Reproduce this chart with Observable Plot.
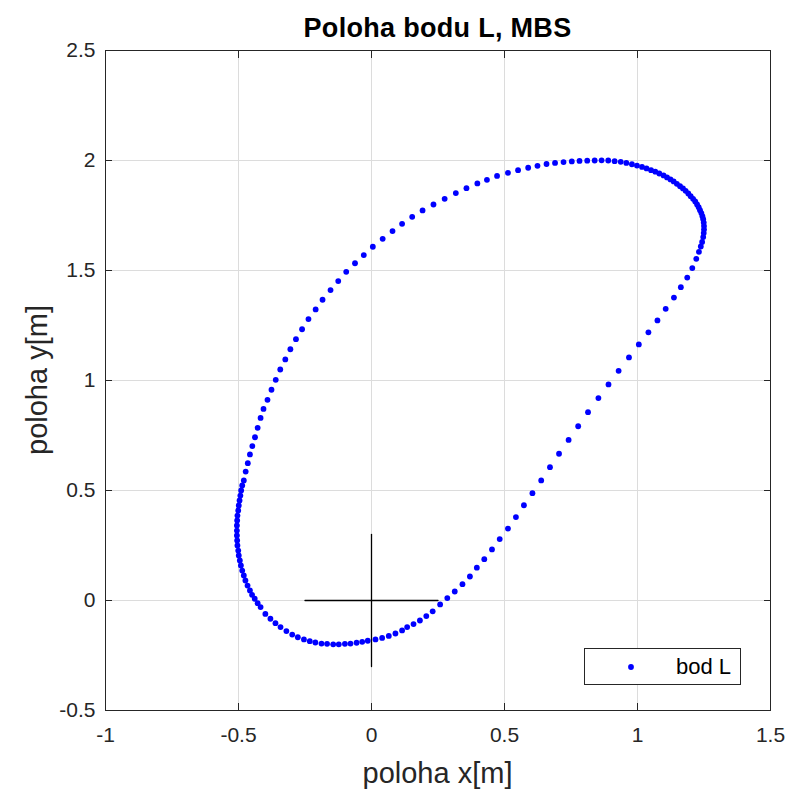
<!DOCTYPE html>
<html><head><meta charset="utf-8">
<script src="https://cdn.jsdelivr.net/npm/d3@7"></script>
<script src="https://cdn.jsdelivr.net/npm/@observablehq/plot@0.6"></script>
<style>
body{margin:0;background:#fff;font-family:"Liberation Sans",Arial,sans-serif;}
#wrap{position:relative;width:790px;height:799px;}
#title{position:absolute;left:105px;width:665px;top:13px;text-align:center;font-weight:bold;font-size:27px;letter-spacing:0.3px;color:#000;}
#xlabel{position:absolute;left:105px;width:665px;top:757px;text-align:center;font-size:29px;color:#262626;}
#ylabel{position:absolute;left:37px;top:380px;transform:translate(-50%,-50%) rotate(-90deg);font-size:29px;color:#262626;white-space:nowrap;}
#legend{position:absolute;left:584px;top:648px;width:155px;height:35px;border:1px solid #262626;background:#fff;}
#legend svg{position:absolute;left:0;top:0;}
#legend span{position:absolute;left:91px;top:5px;font-size:22px;color:#000;}
</style></head><body>
<div id="wrap"></div>
<script>
const bodX = [0.839,0.811,0.782,0.753,0.722,0.690,0.658,0.624,0.589,0.551,0.513,0.472,0.434,0.398,0.357,0.317,0.275,0.233,0.192,0.153,0.115,0.079,0.042,0.005,-0.029,-0.062,-0.095,-0.125,-0.154,-0.184,-0.210,-0.237,-0.261,-0.284,-0.305,-0.324,-0.343,-0.360,-0.376,-0.391,-0.406,-0.417,-0.428,-0.438,-0.448,-0.457,-0.465,-0.473,-0.480,-0.486,-0.490,-0.493,-0.496,-0.499,-0.501,-0.504,-0.505,-0.506,-0.506,-0.506,-0.505,-0.504,-0.501,-0.499,-0.495,-0.491,-0.486,-0.480,-0.474,-0.466,-0.457,-0.449,-0.439,-0.428,-0.417,-0.399,-0.380,-0.361,-0.342,-0.320,-0.298,-0.277,-0.254,-0.232,-0.211,-0.188,-0.167,-0.144,-0.123,-0.100,-0.079,-0.056,-0.035,-0.014,0.015,0.040,0.065,0.090,0.115,0.134,0.158,0.182,0.206,0.230,0.258,0.285,0.313,0.342,0.370,0.396,0.424,0.453,0.482,0.513,0.543,0.573,0.605,0.638,0.671,0.705,0.741,0.777,0.814,0.853,0.891,0.929,0.968,1.005,1.041,1.075,1.106,1.137,1.163,1.187,1.206,1.221,1.231,1.238,1.243,1.247,1.249,1.250,1.250,1.249,1.247,1.244,1.240,1.235,1.230,1.224,1.217,1.209,1.200,1.191,1.181,1.171,1.160,1.148,1.136,1.124,1.111,1.098,1.082,1.067,1.051,1.034,1.017,0.998,0.979,0.958,0.937,0.914,0.890,0.865];
const bodY = [2.000,1.999,1.998,1.996,1.993,1.989,1.984,1.976,1.967,1.956,1.944,1.930,1.912,1.896,1.874,1.852,1.826,1.800,1.773,1.744,1.712,1.679,1.644,1.608,1.570,1.533,1.494,1.452,1.411,1.367,1.323,1.279,1.233,1.188,1.142,1.096,1.050,1.003,0.958,0.912,0.871,0.830,0.785,0.742,0.702,0.664,0.624,0.586,0.546,0.523,0.500,0.477,0.455,0.432,0.409,0.386,0.364,0.341,0.318,0.296,0.273,0.250,0.227,0.205,0.182,0.159,0.136,0.114,0.091,0.068,0.046,0.026,0.008,-0.012,-0.030,-0.061,-0.083,-0.103,-0.121,-0.139,-0.155,-0.167,-0.177,-0.185,-0.191,-0.196,-0.197,-0.199,-0.199,-0.197,-0.196,-0.192,-0.188,-0.183,-0.177,-0.170,-0.161,-0.150,-0.136,-0.121,-0.107,-0.091,-0.071,-0.049,-0.018,0.011,0.041,0.074,0.109,0.149,0.188,0.232,0.279,0.327,0.379,0.433,0.488,0.546,0.606,0.667,0.730,0.792,0.856,0.920,0.982,1.044,1.105,1.164,1.219,1.273,1.326,1.377,1.424,1.468,1.511,1.553,1.585,1.609,1.630,1.652,1.670,1.686,1.702,1.718,1.733,1.747,1.761,1.774,1.788,1.800,1.814,1.826,1.838,1.850,1.862,1.873,1.883,1.894,1.905,1.914,1.923,1.932,1.941,1.949,1.956,1.964,1.971,1.977,1.983,1.989,1.994,1.997,2.000,2.001];
const xTicks = [-1, -0.5, 0, 0.5, 1, 1.5];
const yTicks = [-0.5, 0, 0.5, 1, 1.5, 2, 2.5];
const crossHx = [-0.25, 0.25], crossHy = [0, 0];
const crossVx = [0, 0], crossVy = [-0.3, 0.3];
const titleText = "Poloha bodu L, MBS";
const xLabelText = "poloha x[m]";
const yLabelText = "poloha y[m]";
const legendText = "bod L";

const pts = bodX.map((x, i) => ({x, y: bodY[i]}));
const fmt = d => String(d);
const axisColor = "#262626";

const chart = Plot.plot({
  width: 790, height: 799,
  marginLeft: 105, marginRight: 20, marginTop: 50, marginBottom: 89,
  style: {fontFamily: "Liberation Sans, Arial, sans-serif", fontSize: "21px", color: axisColor, background: "#fff"},
  x: {domain: [-1, 1.5]},
  y: {domain: [-0.5, 2.5]},
  marks: [
    Plot.gridX(xTicks, {stroke: "#dcdcdc", strokeOpacity: 1}),
    Plot.gridY(yTicks, {stroke: "#dcdcdc", strokeOpacity: 1}),
    Plot.line(d3.range(2), {x: crossHx, y: crossHy, stroke: "#000", strokeWidth: 1.3}),
    Plot.line(d3.range(2), {x: crossVx, y: crossVy, stroke: "#000", strokeWidth: 1.3}),
    Plot.dot(pts, {x: "x", y: "y", r: 2.9, fill: "#0000ff", stroke: null}),
    Plot.axisX(xTicks, {anchor: "bottom", tickSize: 0, tickPadding: 17, tickFormat: fmt, label: null, fill: axisColor}),
    Plot.axisY(yTicks, {anchor: "left", tickSize: 0, tickPadding: 10, tickFormat: fmt, label: null, fill: axisColor}),
    Plot.axisX(xTicks, {anchor: "bottom", tickSize: -7, tickFormat: () => "", label: null, stroke: axisColor}),
    Plot.axisX(xTicks, {anchor: "top", tickSize: -7, tickFormat: () => "", label: null, stroke: axisColor}),
    Plot.axisY(yTicks, {anchor: "left", tickSize: -7, tickFormat: () => "", label: null, stroke: axisColor}),
    Plot.axisY(yTicks, {anchor: "right", tickSize: -7, tickFormat: () => "", label: null, stroke: axisColor}),
    Plot.frame({stroke: axisColor, strokeWidth: 1})
  ]
});

const wrap = document.getElementById("wrap");
wrap.appendChild(chart);
const t = document.createElement("div"); t.id = "title"; t.textContent = titleText; wrap.appendChild(t);
const xl = document.createElement("div"); xl.id = "xlabel"; xl.textContent = xLabelText; wrap.appendChild(xl);
const yl = document.createElement("div"); yl.id = "ylabel"; yl.textContent = yLabelText; wrap.appendChild(yl);
const lg = document.createElement("div"); lg.id = "legend";
lg.innerHTML = '<svg width="155" height="35"><circle cx="46" cy="18" r="2.9" fill="#0000ff"></circle></svg>';
const sp = document.createElement("span"); sp.textContent = legendText; lg.appendChild(sp);
wrap.appendChild(lg);
</script>
</body></html>
